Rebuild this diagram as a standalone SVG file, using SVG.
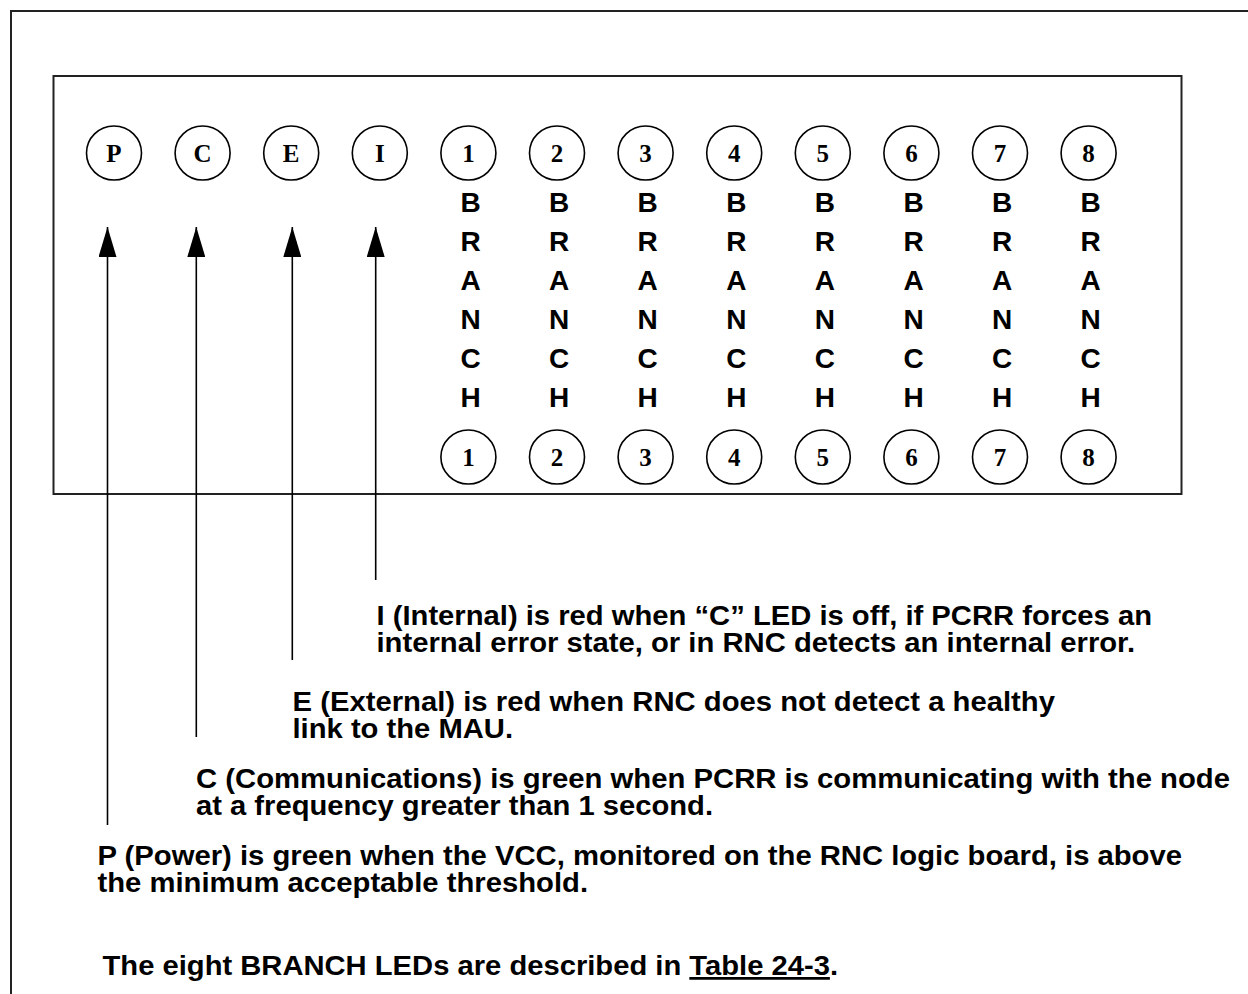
<svg xmlns="http://www.w3.org/2000/svg" width="1248" height="994" viewBox="0 0 1248 994">
<style>
.frame{fill:none;stroke:#222;stroke-width:2}
.led{fill:#fff;stroke:#000;stroke-width:1.6}
.num{font-family:"Liberation Serif","Times New Roman",serif;font-weight:bold;font-size:25px;text-anchor:middle;fill:#000}
.br{font-family:"Liberation Sans",Arial,sans-serif;font-weight:bold;font-size:28px;text-anchor:middle;fill:#000}
.txt{font-family:"Liberation Sans",Arial,sans-serif;font-weight:bold;font-size:27.5px;fill:#000}
.conn{stroke:#000;stroke-width:1.6;fill:none}
</style>
<defs>
<marker id="arr" markerWidth="30" markerHeight="18" refX="30" refY="9" orient="auto" markerUnits="userSpaceOnUse" viewBox="0 0 30 18">
<path d="M0,0 L30,9 L0,18 Z" fill="#000"/>
</marker>
</defs>
<rect width="1248" height="994" fill="#fff"/>
<rect id="outer" class="frame" x="11" y="11" width="1260" height="1010"/>
<rect id="panel" class="frame" x="53.5" y="76" width="1128" height="418"/>

<g id="led-P"><ellipse class="led" cx="114" cy="153" rx="27.5" ry="27"/><text class="num" x="114" y="162">P</text></g>
<g id="led-C"><ellipse class="led" cx="202.6" cy="153" rx="27.5" ry="27"/><text class="num" x="202.6" y="162">C</text></g>
<g id="led-E"><ellipse class="led" cx="291.2" cy="153" rx="27.5" ry="27"/><text class="num" x="291.2" y="162">E</text></g>
<g id="led-I"><ellipse class="led" cx="379.8" cy="153" rx="27.5" ry="27"/><text class="num" x="379.8" y="162">I</text></g>

<g id="branch-1"><ellipse class="led" cx="468.4" cy="153" rx="27.5" ry="27"/><text class="num" x="468.4" y="162">1</text>
<text class="br" x="470.5"><tspan x="470.5" y="212">B</tspan><tspan x="470.5" y="251">R</tspan><tspan x="470.5" y="290">A</tspan><tspan x="470.5" y="329">N</tspan><tspan x="470.5" y="368">C</tspan><tspan x="470.5" y="407">H</tspan></text>
<ellipse class="led" cx="468.4" cy="457" rx="27.5" ry="27"/><text class="num" x="468.4" y="466">1</text></g>
<g id="branch-2"><ellipse class="led" cx="557" cy="153" rx="27.5" ry="27"/><text class="num" x="557" y="162">2</text>
<text class="br" x="559.1"><tspan x="559.1" y="212">B</tspan><tspan x="559.1" y="251">R</tspan><tspan x="559.1" y="290">A</tspan><tspan x="559.1" y="329">N</tspan><tspan x="559.1" y="368">C</tspan><tspan x="559.1" y="407">H</tspan></text>
<ellipse class="led" cx="557" cy="457" rx="27.5" ry="27"/><text class="num" x="557" y="466">2</text></g>
<g id="branch-3"><ellipse class="led" cx="645.6" cy="153" rx="27.5" ry="27"/><text class="num" x="645.6" y="162">3</text>
<text class="br" x="647.7"><tspan x="647.7" y="212">B</tspan><tspan x="647.7" y="251">R</tspan><tspan x="647.7" y="290">A</tspan><tspan x="647.7" y="329">N</tspan><tspan x="647.7" y="368">C</tspan><tspan x="647.7" y="407">H</tspan></text>
<ellipse class="led" cx="645.6" cy="457" rx="27.5" ry="27"/><text class="num" x="645.6" y="466">3</text></g>
<g id="branch-4"><ellipse class="led" cx="734.2" cy="153" rx="27.5" ry="27"/><text class="num" x="734.2" y="162">4</text>
<text class="br" x="736.3"><tspan x="736.3" y="212">B</tspan><tspan x="736.3" y="251">R</tspan><tspan x="736.3" y="290">A</tspan><tspan x="736.3" y="329">N</tspan><tspan x="736.3" y="368">C</tspan><tspan x="736.3" y="407">H</tspan></text>
<ellipse class="led" cx="734.2" cy="457" rx="27.5" ry="27"/><text class="num" x="734.2" y="466">4</text></g>
<g id="branch-5"><ellipse class="led" cx="822.8" cy="153" rx="27.5" ry="27"/><text class="num" x="822.8" y="162">5</text>
<text class="br" x="824.9"><tspan x="824.9" y="212">B</tspan><tspan x="824.9" y="251">R</tspan><tspan x="824.9" y="290">A</tspan><tspan x="824.9" y="329">N</tspan><tspan x="824.9" y="368">C</tspan><tspan x="824.9" y="407">H</tspan></text>
<ellipse class="led" cx="822.8" cy="457" rx="27.5" ry="27"/><text class="num" x="822.8" y="466">5</text></g>
<g id="branch-6"><ellipse class="led" cx="911.4" cy="153" rx="27.5" ry="27"/><text class="num" x="911.4" y="162">6</text>
<text class="br" x="913.5"><tspan x="913.5" y="212">B</tspan><tspan x="913.5" y="251">R</tspan><tspan x="913.5" y="290">A</tspan><tspan x="913.5" y="329">N</tspan><tspan x="913.5" y="368">C</tspan><tspan x="913.5" y="407">H</tspan></text>
<ellipse class="led" cx="911.4" cy="457" rx="27.5" ry="27"/><text class="num" x="911.4" y="466">6</text></g>
<g id="branch-7"><ellipse class="led" cx="1000" cy="153" rx="27.5" ry="27"/><text class="num" x="1000" y="162">7</text>
<text class="br" x="1002.1"><tspan x="1002.1" y="212">B</tspan><tspan x="1002.1" y="251">R</tspan><tspan x="1002.1" y="290">A</tspan><tspan x="1002.1" y="329">N</tspan><tspan x="1002.1" y="368">C</tspan><tspan x="1002.1" y="407">H</tspan></text>
<ellipse class="led" cx="1000" cy="457" rx="27.5" ry="27"/><text class="num" x="1000" y="466">7</text></g>
<g id="branch-8"><ellipse class="led" cx="1088.6" cy="153" rx="27.5" ry="27"/><text class="num" x="1088.6" y="162">8</text>
<text class="br" x="1090.7"><tspan x="1090.7" y="212">B</tspan><tspan x="1090.7" y="251">R</tspan><tspan x="1090.7" y="290">A</tspan><tspan x="1090.7" y="329">N</tspan><tspan x="1090.7" y="368">C</tspan><tspan x="1090.7" y="407">H</tspan></text>
<ellipse class="led" cx="1088.6" cy="457" rx="27.5" ry="27"/><text class="num" x="1088.6" y="466">8</text></g>

<g id="connectors">
<line class="conn" x1="107.5" y1="825" x2="107.5" y2="227" marker-end="url(#arr)"/>
<line class="conn" x1="196.3" y1="737" x2="196.3" y2="227" marker-end="url(#arr)"/>
<line class="conn" x1="292.3" y1="660" x2="292.3" y2="227" marker-end="url(#arr)"/>
<line class="conn" x1="375.7" y1="580" x2="375.7" y2="227" marker-end="url(#arr)"/>
</g>

<g id="note-I"><text class="txt" x="376.5" y="625" textLength="775.5" lengthAdjust="spacingAndGlyphs">I (Internal) is red when “C” LED is off, if PCRR forces an</text>
<text class="txt" x="376.5" y="652" textLength="758.5" lengthAdjust="spacingAndGlyphs">internal error state, or in RNC detects an internal error.</text></g>
<g id="note-E"><text class="txt" x="292.5" y="711" textLength="762.5" lengthAdjust="spacingAndGlyphs">E (External) is red when RNC does not detect a healthy</text>
<text class="txt" x="292.5" y="738" textLength="220.5" lengthAdjust="spacingAndGlyphs">link to the MAU.</text></g>
<g id="note-C"><text class="txt" x="196" y="788" textLength="1034" lengthAdjust="spacingAndGlyphs">C (Communications) is green when PCRR is communicating with the node</text>
<text class="txt" x="196" y="815" textLength="517" lengthAdjust="spacingAndGlyphs">at a frequency greater than 1 second.</text></g>
<g id="note-P"><text class="txt" x="97.5" y="865" textLength="1084.5" lengthAdjust="spacingAndGlyphs">P (Power) is green when the VCC, monitored on the RNC logic board, is above</text>
<text class="txt" x="97.5" y="892" textLength="490.5" lengthAdjust="spacingAndGlyphs">the minimum acceptable threshold.</text></g>
<g id="note-branch"><text class="txt" x="102.5" y="975" textLength="735.5" lengthAdjust="spacingAndGlyphs">The eight BRANCH LEDs are described in <tspan text-decoration="underline">Table 24-3</tspan>.</text></g>
</svg>
